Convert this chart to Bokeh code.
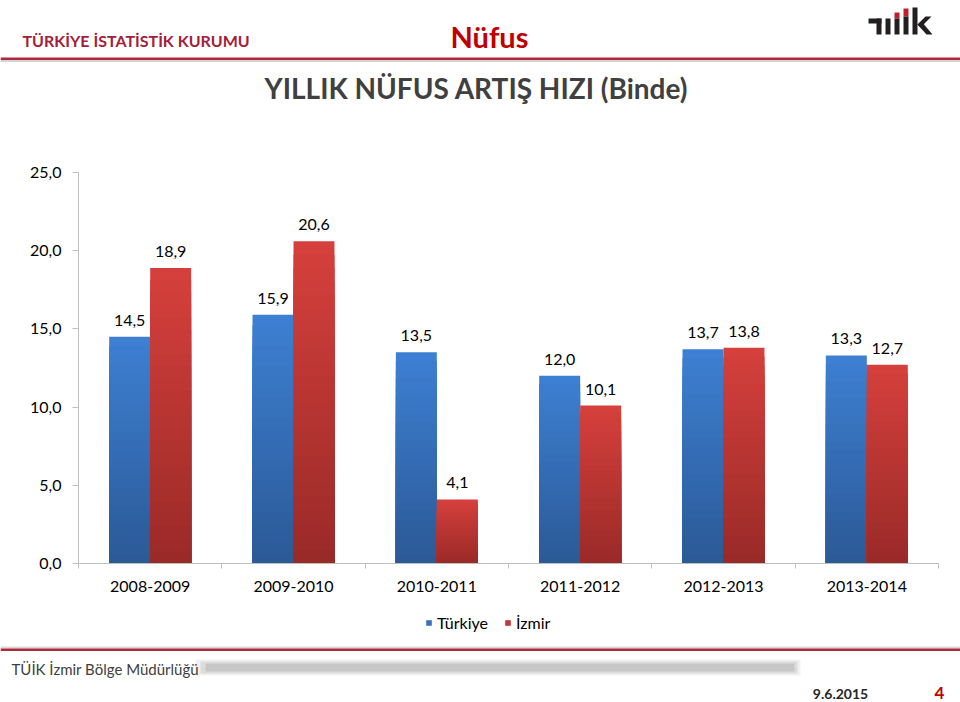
from bokeh.plotting import figure
from bokeh.layouts import column
from bokeh.models import (ColumnDataSource, Range1d, FixedTicker, Label, LabelSet,
                          Legend, LegendItem)
from bokeh.core.properties import value
from bokeh.embed import file_html
from bokeh.resources import INLINE

# ---------------- data ----------------
periods = ["2008-2009", "2009-2010", "2010-2011", "2011-2012", "2012-2013", "2013-2014"]
turkiye = [14.5, 15.9, 13.5, 12.0, 13.7, 13.3]
izmir = [18.9, 20.6, 4.1, 10.1, 13.8, 12.7]
series_names = ["Türkiye", "İzmir"]
y_ticks = [0, 5, 10, 15, 20, 25]

title_text = "YILLIK NÜFUS ARTIŞ HIZI (Binde)"
header_left = "TÜRKİYE İSTATİSTİK KURUMU"
header_mid = "Nüfus"
footer_left = "TÜİK İzmir Bölge Müdürlüğü"
footer_date = "9.6.2015"
page_no = "4"

# ---------------- style ----------------
FONT = "Lato"
W = 960
H_HEAD, H_CHART, H_FOOT = 110, 490, 102
BW = 0.2857          # bar width (category units)
OFF = 0.143          # dodge offset
BLUE_L, BLUE_D = "#3d7fd2", "#2b5a97"
RED_L, RED_D = "#d5403c", "#9a2a28"
AXIS_C = "#bfbfbf"
DARK_RED = "#b0283c"


def fmt(v):
    return f"{v:.1f}".replace(".", ",")


def mix(c1, c2, t):
    a = [int(c1[i:i + 2], 16) for i in (1, 3, 5)]
    b = [int(c2[i:i + 2], 16) for i in (1, 3, 5)]
    return "#" + "".join(f"{round(x + (y - x) * t):02x}" for x, y in zip(a, b))


# ================= chart =================
p = figure(width=W, height=H_CHART, output_backend="svg", toolbar_location=None,
           x_range=Range1d(0, len(periods)), y_range=Range1d(y_ticks[0], y_ticks[-1]),
           min_border_left=78, min_border_right=22, min_border_top=62, min_border_bottom=37,
           background_fill_color="white", border_fill_color="white", outline_line_color=None,
           frame_align=False)
p.xgrid.visible = False
p.ygrid.visible = False

xa = p.xaxis[0]
xa.ticker = FixedTicker(ticks=[i + 0.5 for i in range(len(periods))],
                        minor_ticks=list(range(len(periods) + 1)))
xa.major_label_overrides = {i + 0.5: s for i, s in enumerate(periods)}
xa.major_tick_out = 0
xa.major_tick_in = 0
xa.minor_tick_out = 5
xa.minor_tick_in = 0
xa.minor_tick_line_color = AXIS_C
xa.axis_line_color = AXIS_C
xa.major_label_standoff = 12
xa.major_label_text_font = FONT
xa.major_label_text_font_size = "16px"
xa.major_label_text_color = "#000000"

ya = p.yaxis[0]
ya.ticker = FixedTicker(ticks=y_ticks, minor_ticks=[])
ya.major_label_overrides = {t: fmt(t) for t in y_ticks}
ya.major_tick_out = 6
ya.major_tick_in = 0
ya.minor_tick_out = 0
ya.minor_tick_in = 0
ya.major_tick_line_color = AXIS_C
ya.axis_line_color = AXIS_C
ya.major_label_standoff = 11
ya.major_label_text_font = FONT
ya.major_label_text_font_size = "16px"
ya.major_label_text_color = "#000000"

N = 24


def gradient_source(vals, off, light, dark):
    xs, tops, cols = [], [], []
    for k in range(N):
        f = 1 - k / N
        col = mix(light, dark, k / (N - 1))
        for i, v in enumerate(vals):
            xs.append(i + 0.5 + off)
            tops.append(v * f)
            cols.append(col)
    return ColumnDataSource(dict(x=xs, top=tops, color=cols))


r_t = p.vbar(x="x", top="top", bottom=0, width=BW, fill_color="color", line_color=None,
             source=gradient_source(turkiye, -OFF, BLUE_L, BLUE_D))
r_i = p.vbar(x="x", top="top", bottom=0, width=BW, fill_color="color", line_color=None,
             source=gradient_source(izmir, OFF, RED_L, RED_D))

lab_src = ColumnDataSource(dict(
    x=[i + 0.5 - OFF for i in range(len(periods))] + [i + 0.5 + OFF for i in range(len(periods))],
    y=turkiye + izmir,
    text=[fmt(v) for v in turkiye + izmir]))
p.add_layout(LabelSet(x="x", y="y", text="text", source=lab_src, text_align="center",
                      text_baseline="bottom", y_offset=11, text_font=value(FONT),
                      text_font_size="16px", text_color="#000000"))


# ================= header / footer =================
def deco_fig(h, y0):
    f = figure(width=W, height=h, output_backend="svg", toolbar_location=None,
               x_range=Range1d(0, W), y_range=Range1d(y0 + h, y0),
               x_axis_location=None, y_axis_location=None, min_border=0,
               outline_line_color=None, background_fill_color="white",
               border_fill_color="white", frame_align=False)
    f.xgrid.visible = False
    f.ygrid.visible = False
    return f


def txt(f, s, x, y, size, color, bold=False, align="left"):
    f.add_layout(Label(x=x, y=y, text=s, text_font=FONT, text_font_size=f"{size}px",
                       text_font_style="bold" if bold else "normal", text_color=color,
                       text_align=align, text_baseline="middle"))


def box(f, x0, x1, y0, y1, color, alpha=1.0):
    f.quad(left=x0, right=x1, top=y0, bottom=y1, fill_color=color, fill_alpha=alpha,
           line_color=None)


head = deco_fig(H_HEAD, 0)
txt(head, header_left, 22, 40, 16, "#a3203a", bold=True)
txt(head, header_mid, 489, 36, 29, "#c00000", bold=True, align="center")
txt(head, title_text, 476, 87, 28, "#404040", bold=True, align="center")
box(head, 0, W, 57, 59.5, DARK_RED)
box(head, 0, W, 59.5, 61.5, "#c8c8c8", 0.8)
# TÜİK logo (approximation)
LOGO_K, LOGO_R = "#231f20", "#c0202a"
box(head, 868, 881, 18, 23, LOGO_K)
box(head, 876, 881, 18, 34, LOGO_K)
box(head, 885, 890, 18, 34, LOGO_K)
box(head, 894, 899, 12, 18, LOGO_R)
box(head, 894, 899, 18, 34, LOGO_K)
box(head, 903, 908, 8, 16, LOGO_R)
box(head, 903, 908, 16, 34, LOGO_K)
box(head, 912, 917, 7, 34, LOGO_K)
head.patches(xs=[[917, 925, 931, 920], [917, 921, 932, 926]],
             ys=[[24, 16, 16, 27], [24, 21, 34, 34]], fill_color=LOGO_K, line_color=None)

foot = deco_fig(H_FOOT, 600)
# legend of the chart series; swatch renderers sit outside the visible area
sw_t = foot.vbar(x=[-100], top=[600], bottom=[600], width=1,
                 fill_color=mix(BLUE_L, BLUE_D, 0.35), line_color=None)
sw_i = foot.vbar(x=[-100], top=[600], bottom=[600], width=1,
                 fill_color=mix(RED_L, RED_D, 0.35), line_color=None)
legend = Legend(items=[LegendItem(label=series_names[0], renderers=[sw_t]),
                       LegendItem(label=series_names[1], renderers=[sw_i])],
                location=(425, 70), orientation="horizontal", padding=0, margin=0, spacing=16,
                label_standoff=5, glyph_width=7, glyph_height=7,
                border_line_color=None, background_fill_alpha=0, label_text_font=FONT,
                label_text_font_size="16px", label_text_color="#000000")
foot.add_layout(legend)

box(foot, 0, W, 646, 648, "#d0d0d0", 0.8)
box(foot, 0, W, 648, 650.5, DARK_RED)
for (a, b, c, d, al) in [(195, 800, 659, 675, 0.15), (200, 797, 661, 673, 0.25),
                         (205, 794, 663, 671, 0.35)]:
    box(foot, a, b, c, d, "#a0a0a0", al)
txt(foot, footer_left, 11, 668, 15, "#404040")
txt(foot, footer_date, 840, 693, 14, "#262626", bold=True, align="center")
txt(foot, page_no, 939, 692, 17, "#c00000", bold=True, align="center")

layout = column(head, p, foot, spacing=0)
open("out.html", "w").write(file_html(layout, INLINE))
